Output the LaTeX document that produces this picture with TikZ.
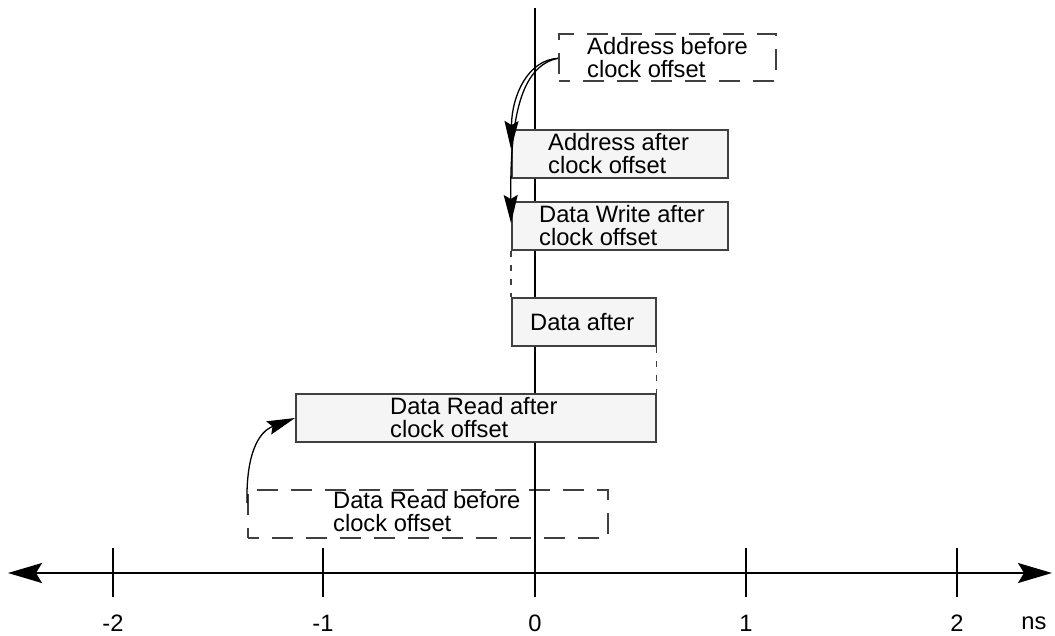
\documentclass[tikz,border=0pt]{standalone}
\usepackage{fontspec}
\setmainfont{Liberation Sans}
\usetikzlibrary{arrows.meta}
\definecolor{boxfill}{HTML}{F5F5F5}
\definecolor{boxline}{HTML}{404040}
\begin{document}
\begin{tikzpicture}[x=1pt,y=-1pt,
  box/.style={draw=boxline, line width=1.6pt, fill=boxfill, inner sep=0pt, anchor=north west},
  dbox/.style={draw=boxline, line width=1.6pt, dash pattern=on 21pt off 13pt, dash phase=10pt, inner sep=0pt, anchor=north west},
  lbl/.style={align=left, inner sep=0pt, anchor=west, font=\fontsize{23.7}{23}\selectfont},
  tlbl/.style={inner sep=0pt, font=\fontsize{23.7}{23}\selectfont},
  dotl/.style={draw=boxline, line width=1.6pt, dash pattern=on 6pt off 8pt},
  arr/.style={line width=1.3pt, -{Stealth[length=28pt,width=14pt,inset=4pt]}},
  tick/.style={line width=1.2pt}
]
\useasboundingbox (0,0) rectangle (1055,635);

% zero line
\coordinate (ztop) at (535,8);
\coordinate (zbot) at (535,573);
\draw[line width=1.3pt] (ztop) -- (zbot);

% boxes
\node[dbox, minimum width=217pt, minimum height=47pt] (ab) at (558,33) {};
\node[lbl] (abt) at ([xshift=29pt]ab.west) {Address before\\clock offset};

\node[box, minimum width=216pt, minimum height=48pt] (aa) at (511,129) {};
\node[lbl] (aat) at ([xshift=37pt]aa.west) {Address after\\clock offset};

\node[box, minimum width=216pt, minimum height=48pt] (dw) at (511,201) {};
\node[lbl] (dwt) at ([xshift=28pt]dw.west) {Data Write after\\clock offset};

\node[box, minimum width=144pt, minimum height=48pt] (da) at (511,297) {};
\node[lbl] (dat) at ([xshift=19pt]da.west) {Data after};

\node[box, minimum width=360pt, minimum height=48pt] (dr) at (295,393) {};
\node[lbl] (drt) at ([xshift=95pt]dr.west) {Data Read after\\clock offset};

\node[dbox, minimum width=360pt, minimum height=48pt] (drb) at (247,489) {};
\node[lbl] (drbt) at ([xshift=86pt,yshift=2pt]drb.west) {Data Read before\\clock offset};

% dotted connectors
\draw[dotl] (dw.south west) -- (da.north west);
\draw[dotl] (da.south east) -- (dr.north east);

% redraw zero line segments over fills
\draw[line width=1.3pt] (aa.south -| ztop) -- (dw.north -| ztop);
\draw[line width=1.3pt] (ab.north -| ztop) -- (aa.north -| ztop);
\draw[line width=1.3pt] (dw.south -| ztop) -- (da.north -| ztop);
\draw[line width=1.3pt] (da.south -| ztop) -- (dr.north -| ztop);
\draw[line width=1.3pt] (dr.south -| ztop) -- (zbot);

% curved arrows
\coordinate (abw) at ([yshift=-1pt]ab.west);
\draw[arr] (abw) .. controls (528,60) and (512,95) .. ([yshift=-20pt]aa.north west);
\draw[arr] (abw) .. controls (520,66) and (510,120) .. ([yshift=-22pt]dw.north west);
\draw[arr] ([yshift=-14pt]drb.north west) .. controls (246,455) and (258,432) .. ([yshift=-25pt]dr.north west);

% axis
\coordinate (axl) at (8,573);
\coordinate (axr) at (1052,573);
\draw[line width=1.6pt, {Stealth[length=34pt,width=20pt,inset=6pt]}-{Stealth[length=34pt,width=20pt,inset=6pt]}] (axl) -- (axr);

\foreach \x/\t/\n in {113/-2/m2, 323/-1/m1, 535/0/z0, 746/1/p1, 957/2/p2} {
  \coordinate (tk\n) at (\x,548);
  \coordinate (tb\n) at (\x,597);
  \draw[tick] (tk\n) -- (tb\n);
  \node[tlbl] (lb\n) at (\x,623) {\t};
}
\node[tlbl] (ns) at (1034,623) {ns};
\end{tikzpicture}
\end{document}
